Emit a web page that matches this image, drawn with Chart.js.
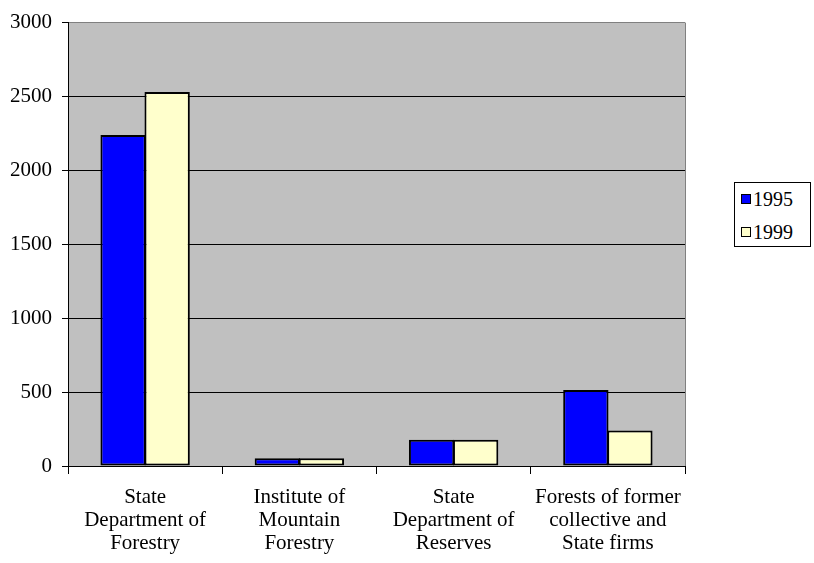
<!DOCTYPE html>
<html>
<head>
<meta charset="utf-8">
<script src="https://cdn.jsdelivr.net/npm/chart.js@4/dist/chart.umd.min.js"></script>
<style>
  html, body { margin: 0; padding: 0; background: #fff; }
  #wrap { position: relative; width: 814px; height: 563px; }
  #legend {
    position: absolute; left: 734px; top: 182px; width: 77px; height: 65px;
    border: 1px solid #000; box-sizing: border-box; background: #fff;
    font-family: "Liberation Serif", "Times New Roman", serif; font-size: 20px; color: #000;
  }
  .item { position: absolute; left: 6px; display: flex; align-items: center; line-height: 22px; }
  .sw { width: 8px; height: 8px; border: 1.5px solid #000; margin-right: 2px; }
</style>
</head>
<body>
<div id="wrap">
  <canvas id="c" width="814" height="563"></canvas>
  <div id="legend">
    <div class="item" style="top:5px"><span class="sw" style="background:#0000FF"></span><span>1995</span></div>
    <div class="item" style="top:38px"><span class="sw" style="background:#FFFFCC"></span><span>1999</span></div>
  </div>
</div>
<script>
const categories = [
  ["State", "Department of", "Forestry"],
  ["Institute of", "Mountain", "Forestry"],
  ["State", "Department of", "Reserves"],
  ["Forests of former", "collective and", "State firms"]
];
const series1995 = [2240, 52, 178, 515];
const series1999 = [2530, 52, 178, 240];
const seriesNames = ["1995", "1999"];

const serif = "'Liberation Serif', 'Times New Roman', serif";

// grey plot background plus a thin grey frame line on the right
const plotFrame = {
  id: 'plotFrame',
  beforeDraw(chart) {
    const a = chart.chartArea, ctx = chart.ctx;
    ctx.save();
    ctx.fillStyle = '#C0C0C0';
    ctx.fillRect(a.left, a.top, a.right - a.left, a.bottom - a.top);
    ctx.restore();
  },
  afterDraw(chart) {
    const a = chart.chartArea, ctx = chart.ctx;
    ctx.save();
    ctx.strokeStyle = '#808080';
    ctx.lineWidth = 1;
    ctx.beginPath();
    ctx.moveTo(a.right + 0.5, a.top);
    ctx.lineTo(a.right + 0.5, a.bottom);
    ctx.stroke();
    ctx.restore();
  }
};

new Chart(document.getElementById('c'), {
  type: 'bar',
  data: {
    labels: categories,
    datasets: [
      { label: seriesNames[0], data: series1995, backgroundColor: '#0000FF', borderColor: '#000', borderWidth: 2, borderSkipped: false },
      { label: seriesNames[1], data: series1999, backgroundColor: '#FFFFCC', borderColor: '#000', borderWidth: 2, borderSkipped: false }
    ]
  },
  options: {
    responsive: false,
    animation: false,
    devicePixelRatio: 1,
    layout: { padding: { left: 0, right: 129, top: 22, bottom: 0 } },
    datasets: { bar: { categoryPercentage: 0.571, barPercentage: 1.03 } },
    plugins: { legend: { display: false }, tooltip: { enabled: false } },
    scales: {
      x: {
        offset: true,
        grid: { display: true, drawOnChartArea: false, drawTicks: true, tickLength: 8, color: '#000', offset: true },
        border: { color: '#000', width: 1 },
        ticks: { color: '#000', font: { family: serif, size: 21, lineHeight: '23px' }, padding: 12, maxRotation: 0, autoSkip: false },
        afterFit(scale) { scale.height = 97; }
      },
      y: {
        min: 0, max: 3000,
        grid: {
          color: (ctx) => (ctx.tick && ctx.tick.value === 3000) ? '#808080' : '#000',
          tickColor: '#000', tickLength: 6, drawTicks: true
        },
        border: { color: '#000', width: 1 },
        ticks: { stepSize: 500, color: '#000', font: { family: serif, size: 21 }, padding: 10,
                 callback: (v) => String(v) },
        afterFit(scale) { scale.width = 68; }
      }
    }
  },
  plugins: [plotFrame]
});
</script>
</body>
</html>
